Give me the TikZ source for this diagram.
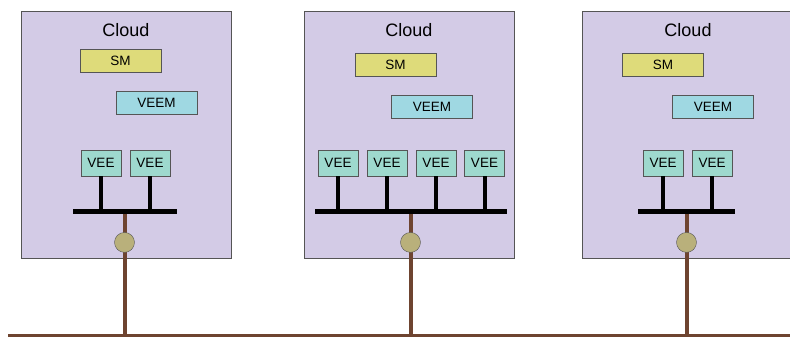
\documentclass[tikz,border=0pt]{standalone}
\usepackage{fontspec}
\setmainfont{Liberation Sans}
\usepackage{xcolor}
\usepackage{tikz}
\usetikzlibrary{positioning}
\definecolor{cloudlav}{HTML}{D3CBE6}
\definecolor{smyellow}{HTML}{DEDB7A}
\definecolor{veemcyan}{HTML}{9FD8E2}
\definecolor{veeteal}{HTML}{9ED9CE}
\definecolor{hubtan}{HTML}{B9B07B}
\definecolor{wirebrown}{HTML}{6E4430}
\definecolor{edgegray}{HTML}{555555}

\begin{document}
\begin{tikzpicture}[x=1pt, y=-1pt,
  cloudbox/.style={draw=edgegray, fill=cloudlav, minimum width=210pt, minimum height=247pt, inner sep=0pt},
  title/.style={font=\fontsize{18}{20}\selectfont},
  unit/.style={draw=edgegray, inner sep=0pt, minimum height=23pt, font=\fontsize{13.5}{15}\selectfont},
  smbox/.style={unit, fill=smyellow, minimum width=81pt},
  veembox/.style={unit, fill=veemcyan, minimum width=81pt},
  veebox/.style={unit, fill=veeteal, minimum width=40pt, minimum height=26pt},
  busbar/.style={fill=black, inner sep=0pt, minimum height=5pt},
  stem/.style={line width=4pt, black},
  wire/.style={line width=4pt, wirebrown},
  lan/.style={line width=3pt, wirebrown},
  hub/.style={circle, draw=edgegray, fill=hubtan, minimum size=20pt, inner sep=0pt}]
\useasboundingbox (0,0) rectangle (790,337);
\clip (0,0) rectangle (790,337);
% clouds
\node[cloudbox] (cloud1) at (126,134.5) {};
\node[cloudbox] (cloud2) at (409,134.5) {};
\node[cloudbox] (cloud3) at (687,134.5) {};
\node[title] (title1) at (126,30) {Cloud};
\node[title] (title2) at (409,30) {Cloud};
\node[title] (title3) at (688,30) {Cloud};
% network
\coordinate (lanW) at (8,335); \coordinate (lanE) at (792,335);
\draw[lan] (lanW) -- (lanE);
\node[busbar, minimum width=104pt] (bus1) at (124.5,211.5) {};
\node[busbar, minimum width=192pt] (bus2) at (410.5,211.5) {};
\node[busbar, minimum width=97pt] (bus3) at (686.5,211.5) {};
\draw[wire] (bus1.south) -- (bus1.south |- lanW); \draw[wire] (bus2.south) -- (bus2.south |- lanW); \draw[wire] (bus3.south) -- (bus3.south |- lanW);
\node[hub, below=18pt of bus1] (hub1) {};
\node[hub, below=18pt of bus2] (hub2) {};
\node[hub, below=18pt of bus3] (hub3) {};
% cloud 1
\node[smbox] (sm1) at (120.5,60.5) {SM};
\node[veembox] (veem1) at (156.5,102.5) {VEEM};
\node[veebox] (vee11) at (101,163) {VEE};
\node[veebox] (vee12) at (150,163) {VEE};
% cloud 2
\node[smbox] (sm2) at (395.5,65) {SM};
\node[veembox] (veem2) at (432,107) {VEEM};
\node[veebox] (vee21) at (338,163) {VEE};
\node[veebox] (vee22) at (387,163) {VEE};
\node[veebox] (vee23) at (436,163) {VEE};
\node[veebox] (vee24) at (484.5,163) {VEE};
% cloud 3
\node[smbox] (sm3) at (663,65) {SM};
\node[veembox] (veem3) at (713,107) {VEEM};
\node[veebox] (vee31) at (663,163) {VEE};
\node[veebox] (vee32) at (712,163) {VEE};
% stems
\draw[stem] (vee11.south) -- (vee11.south |- bus1.north); \draw[stem] (vee12.south) -- (vee12.south |- bus1.north);
\draw[stem] (vee21.south) -- (vee21.south |- bus2.north); \draw[stem] (vee22.south) -- (vee22.south |- bus2.north);
\draw[stem] (vee23.south) -- (vee23.south |- bus2.north); \draw[stem] (vee24.south) -- (vee24.south |- bus2.north);
\draw[stem] (vee31.south) -- (vee31.south |- bus3.north); \draw[stem] (vee32.south) -- (vee32.south |- bus3.north);
\end{tikzpicture}
\end{document}
